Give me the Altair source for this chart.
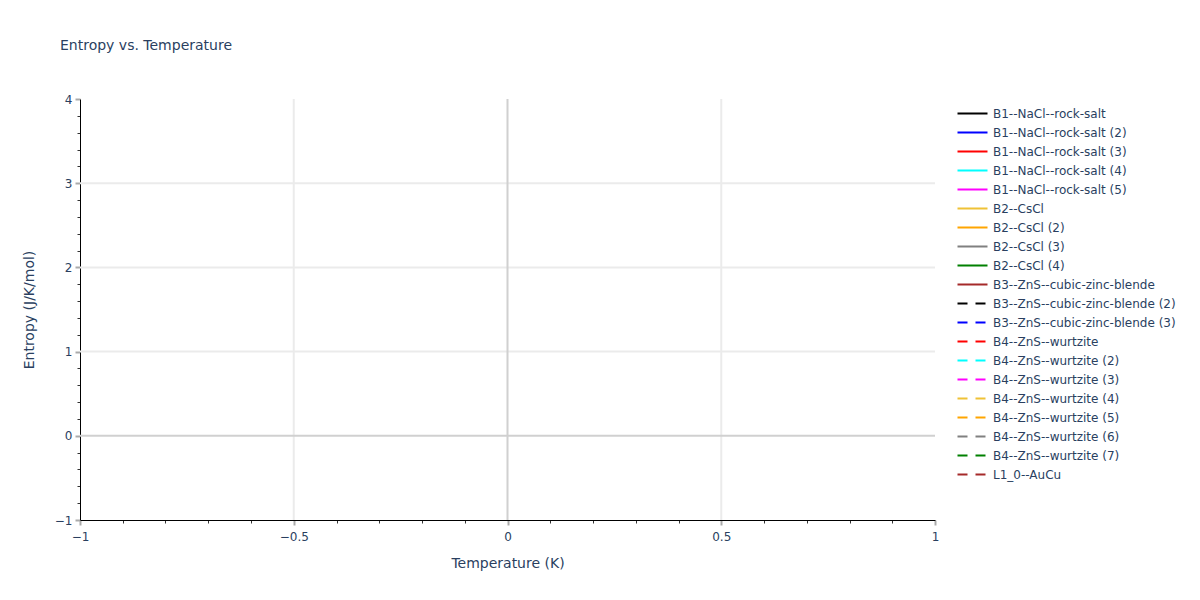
import altair as alt
import pandas as pd

# ---- data ----
series = [
    "B1--NaCl--rock-salt", "B1--NaCl--rock-salt (2)", "B1--NaCl--rock-salt (3)",
    "B1--NaCl--rock-salt (4)", "B1--NaCl--rock-salt (5)",
    "B2--CsCl", "B2--CsCl (2)", "B2--CsCl (3)", "B2--CsCl (4)",
    "B3--ZnS--cubic-zinc-blende", "B3--ZnS--cubic-zinc-blende (2)", "B3--ZnS--cubic-zinc-blende (3)",
    "B4--ZnS--wurtzite", "B4--ZnS--wurtzite (2)", "B4--ZnS--wurtzite (3)", "B4--ZnS--wurtzite (4)",
    "B4--ZnS--wurtzite (5)", "B4--ZnS--wurtzite (6)", "B4--ZnS--wurtzite (7)",
    "L1_0--AuCu",
]
colors = [
    "#000000", "#0000ff", "#ff0000", "#00ffff", "#ff00ff",
    "#efc236", "#ffa500", "#808080", "#008000", "#a52a2a",
    "#000000", "#0000ff", "#ff0000", "#00ffff", "#ff00ff",
    "#efc236", "#ffa500", "#808080", "#008000", "#a52a2a",
]
dashes = [[1, 0]] * 10 + [[10, 8]] * 10

x_domain = [-1, 1]
y_domain = [-1, 4]
x_ticks = [round(-1 + 0.1 * i, 10) for i in range(21)]
y_ticks = [round(-1 + 0.2 * i, 10) for i in range(26)]
x_grid = [-0.5, 0.5]
y_grid = [1, 2, 3]
zero = [0]

TEXT = "#2a3f5f"
FONT = "DejaVu Sans"

# empty traces (no points in the reference)
lines_df = pd.DataFrame({"series": series, "x": [None] * len(series), "y": [None] * len(series)})

xs = alt.Scale(domain=x_domain, nice=False, zero=False)
ys = alt.Scale(domain=y_domain, nice=False, zero=False)

major_x = "abs(datum.value*2 - round(datum.value*2)) < 1e-6"
major_y = "abs(datum.value - round(datum.value)) < 1e-6"

x_axis = alt.Axis(
    values=x_ticks, grid=False, title="Temperature (K)",
    labelExpr=f"{major_x} ? format(datum.value, '~g') : ''",
    labelOverlap=False, labelFlush=False, labelPadding=6,
    tickColor={"condition": {"test": major_x, "value": "#aaaaaa"}, "value": "#333333"},
    tickSize={"condition": {"test": major_x, "value": 5}, "value": 3},
    tickWidth={"condition": {"test": major_x, "value": 2}, "value": 1},
    domainColor="#000000", domainWidth=1,
    titlePadding=14,
)
y_axis = alt.Axis(
    values=y_ticks, grid=False, title="Entropy (J/K/mol)",
    labelExpr=f"{major_y} ? format(datum.value, '~g') : ''",
    labelOverlap=False, labelFlush=False, labelPadding=3,
    tickColor={"condition": {"test": major_y, "value": "#aaaaaa"}, "value": "#333333"},
    tickSize={"condition": {"test": major_y, "value": 5}, "value": 3},
    tickWidth={"condition": {"test": major_y, "value": 2}, "value": 1},
    domainColor="#000000", domainWidth=1,
    titlePadding=18,
)

vgrid = alt.Chart(pd.DataFrame({"gx": x_grid})).mark_rule(color="#ebebeb", strokeWidth=2).encode(
    x=alt.X("gx:Q", scale=xs, axis=x_axis)
)
hgrid = alt.Chart(pd.DataFrame({"gy": y_grid})).mark_rule(color="#ebebeb", strokeWidth=2).encode(
    y=alt.Y("gy:Q", scale=ys, axis=y_axis)
)
vzero = alt.Chart(pd.DataFrame({"zx": zero})).mark_rule(color="#d0d0d0", strokeWidth=2).encode(
    x=alt.X("zx:Q", scale=xs, axis=x_axis)
)
hzero = alt.Chart(pd.DataFrame({"zy": zero})).mark_rule(color="#d0d0d0", strokeWidth=2).encode(
    y=alt.Y("zy:Q", scale=ys, axis=y_axis)
)

lines = alt.Chart(lines_df).mark_line(strokeWidth=2).encode(
    x=alt.X("x:Q", scale=xs, axis=x_axis),
    y=alt.Y("y:Q", scale=ys, axis=y_axis),
    color=alt.Color("series:N", scale=alt.Scale(domain=series, range=colors), legend=alt.Legend(title=None)),
    strokeDash=alt.StrokeDash("series:N", scale=alt.Scale(domain=series, range=dashes), legend=alt.Legend(title=None)),
)

chart = alt.layer(vgrid, hgrid, vzero, hzero, lines).properties(
    width=855,
    height=421,
    autosize=alt.AutoSizeParams(type="none"),
    padding={"left": 72, "top": 91, "right": 257, "bottom": 72},
    background="white",
    title=alt.TitleParams(
        "Entropy vs. Temperature", anchor="start", frame="group", dx=-20, offset=40,
        fontSize=14, font=FONT, fontWeight="normal", color=TEXT,
    ),
).configure_view(stroke=None).configure_axis(
    labelFont=FONT, labelFontSize=12, labelColor=TEXT,
    titleFont=FONT, titleFontSize=14, titleColor=TEXT, titleFontWeight="normal",
).configure_legend(
    orient="none", legendX=884, legendY=6, padding=0,
    labelFont=FONT, labelFontSize=12, labelColor=TEXT, labelLimit=400, labelOffset=12,
    symbolType="M-2,0H2", symbolSize=225, symbolStrokeWidth=2, rowPadding=4,
)

chart.save("out.html", embed_options={"renderer": "svg", "actions": False})
